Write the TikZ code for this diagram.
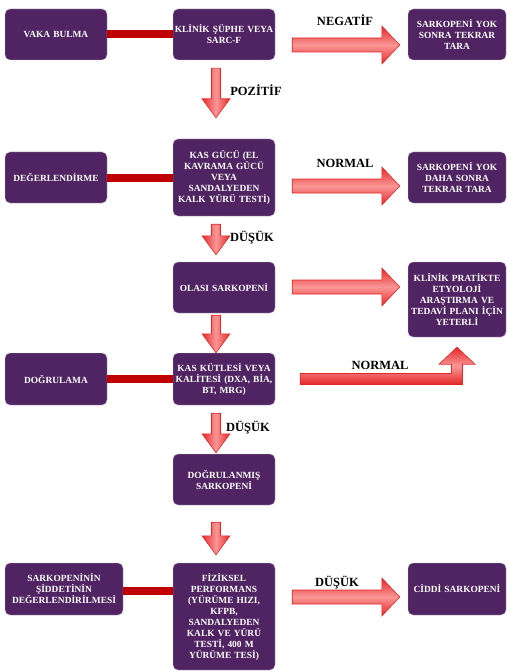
\documentclass[tikz,border=0pt]{standalone}
\usepackage{fontspec}
\setmainfont{Liberation Serif}
\usetikzlibrary{calc}

\definecolor{mor}{RGB}{80,36,98}
\definecolor{kenar}{RGB}{190,180,200}
\definecolor{bagkirmizi}{RGB}{192,0,0}
\definecolor{okkirmizi}{RGB}{228,40,40}
\definecolor{okacik}{RGB}{250,150,150}

\tikzset{
  kutu/.style={draw=kenar, fill=mor, rounded corners=5pt, text=white, align=center,
    inner xsep=0pt, inner ysep=1pt, text width=#1, minimum width=#1,
    font=\bfseries\fontsize{9.4}{11}\selectfont},
  kutu/.default=102pt,
  etiket/.style={font=\bfseries\fontsize{12.5}{14}\selectfont},
  bag/.style={draw=bagkirmizi, line width=8pt},
  okyatay/.style={draw=okkirmizi, line width=0.6pt, top color=okkirmizi, bottom color=okkirmizi, middle color=okacik},
  okdikey/.style={draw=okkirmizi, line width=0.6pt, left color=okkirmizi, right color=okkirmizi, middle color=okacik}
}

% horizontal block arrow: source anchor, target anchor, vertical offset
\newcommand{\rarrow}[3]{%
  \path[okyatay] ($(#1)+(17,#3-7)$) -- ($(#2)+(-26,#3-7)$) -- ($(#2)+(-26,#3-19)$)
    -- ($(#2)+(-8,#3)$) -- ($(#2)+(-26,#3+19)$) -- ($(#2)+(-26,#3+7)$)
    -- ($(#1)+(17,#3+7)$) -- cycle;}
% vertical block arrow: source anchor, target anchor, start gap, tip gap
\newcommand{\darrow}[4]{%
  \path[okdikey] ($(#1)+(-12.5,#3)$) -- ($(#2)+(-12.5,-#4-19)$) -- ($(#2)+(-22,-#4-19)$)
    -- ($(#2)+(-8,-#4)$) -- ($(#2)+(6,-#4-19)$) -- ($(#2)+(-3.5,-#4-19)$)
    -- ($(#1)+(-3.5,#3)$) -- cycle;}

\begin{document}
\begin{tikzpicture}[x=1pt, y=-1pt]
    \useasboundingbox (0,0) rectangle (507,671);

    % row 1
    \node[kutu, minimum height=51pt] (vaka) at (56,34.5) {VAKA BULMA};
    \node[kutu=108pt, minimum width=102pt, inner xsep=-3pt, minimum height=51pt] (klinik) at (224,34.5) {KLİNİK ŞÜPHE VEYA\\SARC-F};
    \node[kutu=98pt, minimum height=51pt] (yok1) at (457,34.5) {SARKOPENİ YOK\\SONRA TEKRAR\\TARA};

    % row 2
    \node[kutu, minimum height=51pt] (deger) at (56,177.5) {DEĞERLENDİRME};
    \node[kutu, minimum height=77pt] (kasguc) at (224,177.5) {KAS GÜCÜ (EL\\KAVRAMA GÜCÜ\\VEYA\\SANDALYEDEN\\KALK YÜRÜ TESTİ)};
    \node[kutu=98pt, minimum height=51pt] (yok2) at (457,177.5) {SARKOPENİ YOK\\DAHA SONRA\\TEKRAR TARA};

    % row 3
    \node[kutu, minimum height=51pt] (olasi) at (224,287.5) {OLASI SARKOPENİ};
    \node[kutu=98pt, minimum height=75pt] (pratik) at (457,299.5) {KLİNİK PRATİKTE\\ETYOLOJİ\\ARAŞTIRMA VE\\TEDAVİ PLANI İÇİN\\YETERLİ};

    % row 4
    \node[kutu, minimum height=52pt] (dogrula) at (56,379) {DOĞRULAMA};
    \node[kutu, minimum height=52pt] (kaskut) at (224,379) {KAS KÜTLESİ VEYA\\KALİTESİ (DXA, BİA,\\BT, MRG)};

    % row 5
    \node[kutu, minimum height=51pt] (dogrulanmis) at (224,479.5) {DOĞRULANMIŞ\\SARKOPENİ};

    % row 6
    \node[kutu=118pt, minimum height=52pt] (siddet) at (64,589) {SARKOPENİNİN\\ŞİDDETİNİN\\DEĞERLENDİRİLMESİ};
    \node[kutu, minimum height=107pt] (fiziksel) at (224,616.5) {FİZİKSEL\\PERFORMANS\\(YÜRÜME HIZI,\\KFPB,\\SANDALYEDEN\\KALK VE YÜRÜ\\TESTİ, 400 M\\YÜRÜME TESİ)};
    \node[kutu=98pt, minimum height=52pt] (ciddi) at (457,589) {CİDDİ SARKOPENİ};

    % red links
    \draw[bag] (vaka.east) -- (klinik.west);
    \draw[bag] (deger.east) -- (kasguc.west);
    \draw[bag] (dogrula.east) -- (kaskut.west);
    \draw[bag] ([yshift=-2pt]siddet.east) -- ([yshift=-2pt]siddet.east -| fiziksel.west);

    % block arrows
    \rarrow{klinik.east}{yok1.west}{10.5}
    \rarrow{kasguc.east}{yok2.west}{8.5}
    \rarrow{olasi.east}{olasi.east -| pratik.west}{-0.5}
    \rarrow{fiziksel.east |- ciddi.west}{ciddi.west}{8}
    \darrow{klinik.south}{kasguc.north}{8}{21}
    \darrow{kasguc.south}{olasi.north}{8}{7}
    \darrow{olasi.south}{kaskut.north}{2}{0}
    \darrow{kaskut.south}{dogrulanmis.north}{8}{1}
    \darrow{dogrulanmis.south}{fiziksel.north}{17}{8}
    \path[okyatay] ($(kaskut.east)+(25,-5.5)$) -- ($(kaskut.east -| pratik.south)+(-5.5,-5.5)$)
      -- ($(pratik.south)+(-5.5,27)$) -- ($(pratik.south)+(-18,27)$) -- ($(pratik.south)+(0,10)$)
      -- ($(pratik.south)+(18,27)$) -- ($(pratik.south)+(5.5,27)$)
      -- ($(kaskut.east -| pratik.south)+(5.5,5.5)$) -- ($(kaskut.east)+(25,5.5)$) -- cycle;

    % labels
    \node[etiket] (lneg) at (345,20) {NEGATİF};
    \node[etiket] (lpoz) at (256,90) {POZİTİF};
    \node[etiket] (lnor1) at (345,163) {NORMAL};
    \node[etiket] (ldus1) at (252,238) {DÜŞÜK};
    \node[etiket] (lnor2) at (380,365) {NORMAL};
    \node[etiket] (ldus2) at (248,428) {DÜŞÜK};
    \node[etiket] (ldus3) at (337,583) {DÜŞÜK};
\end{tikzpicture}
\end{document}
